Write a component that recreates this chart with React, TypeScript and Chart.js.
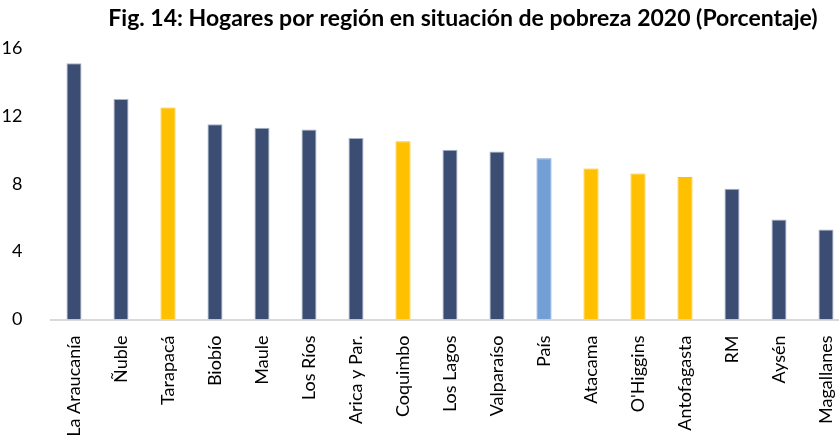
import React, { useEffect, useRef } from "react";
import { Chart, registerables } from "chart.js";

Chart.register(...registerables);

const categories = [
  "La Araucanía", "Ñuble", "Tarapacá", "Biobío", "Maule", "Los Ríos", "Arica y Par.",
  "Coquimbo", "Los Lagos", "Valparaíso", "País", "Atacama", "O'Higgins", "Antofagasta",
  "RM", "Aysén", "Magallanes",
];
const values = [15.1, 13.0, 12.5, 11.5, 11.3, 11.2, 10.7, 10.5, 10.0, 9.9, 9.5, 8.9, 8.6, 8.4, 7.7, 5.9, 5.3];
// group: "r" = región, "n" = región del norte (destacada), "p" = país
const groups = ["r", "r", "n", "r", "r", "r", "r", "n", "r", "r", "p", "n", "n", "n", "r", "r", "r"];
const yTicks = [0, 4, 8, 12, 16];

const TITLE = "Fig. 14: Hogares por región en situación de pobreza 2020 (Porcentaje)";

const fillFor: Record<string, string> = { r: "#3B4D73", n: "#FFC000", p: "#729FD6" };
const edgeFor: Record<string, string> = { r: "#A7B2C6", n: "#FFC000", p: "#729FD6" };

const W = 926;
const H = 441;
const PLOT_RIGHT = 849.5;

export default function App() {
  const ref = useRef<HTMLCanvasElement | null>(null);
  useEffect(() => {
    if (!ref.current) return;
    const chart = new Chart(ref.current, {
      type: "bar",
      data: {
        labels: categories,
        datasets: [
          {
            data: values,
            backgroundColor: groups.map((g) => fillFor[g]),
            borderColor: groups.map((g) => edgeFor[g]),
            borderWidth: 1,
            barPercentage: 0.32,
            categoryPercentage: 1,
          },
        ],
      },
      options: {
        animation: false,
        responsive: false,
        maintainAspectRatio: false,
        layout: { padding: 0 },
        plugins: {
          legend: { display: false },
          tooltip: { enabled: false },
          title: {
            display: true,
            text: TITLE,
            color: "#000",
            font: { family: "Lato", size: 23, weight: "bold", lineHeight: 1.2 },
            padding: { top: 5, bottom: 15.4 },
          },
        },
        scales: {
          x: {
            grid: { display: false },
            border: { display: true, color: "#D9D9D9", width: 2 },
            ticks: {
              color: "#000",
              font: { family: "Lato", size: 18 },
              minRotation: 90,
              maxRotation: 90,
              autoSkip: false,
              padding: 8,
            },
            afterFit: (s: any) => {
              s.height = H - 319.5;
            },
          },
          y: {
            min: 0,
            max: 16,
            afterBuildTicks: (s: any) => {
              s.ticks = yTicks.map((v) => ({ value: v }));
            },
            grid: { display: false },
            border: { display: false },
            ticks: {
              color: "#000",
              font: { family: "Lato", size: 18 },
              padding: 20,
            },
            afterFit: (s: any) => {
              s.width = 50.5;
            },
          },
          yr: {
            position: "right",
            display: true,
            grid: { display: false },
            border: { display: false },
            ticks: { display: false },
            afterFit: (s: any) => {
              s.width = W - PLOT_RIGHT;
            },
          },
        },
      },
    } as any);
    return () => chart.destroy();
  }, []);
  return (
    <div style={{ position: "fixed", left: 0, top: 0, width: 839, height: H, overflow: "hidden", background: "#fff" }}>
      <canvas ref={ref} width={W} height={H} style={{ width: W, height: H, display: "block" }} />
    </div>
  );
}
